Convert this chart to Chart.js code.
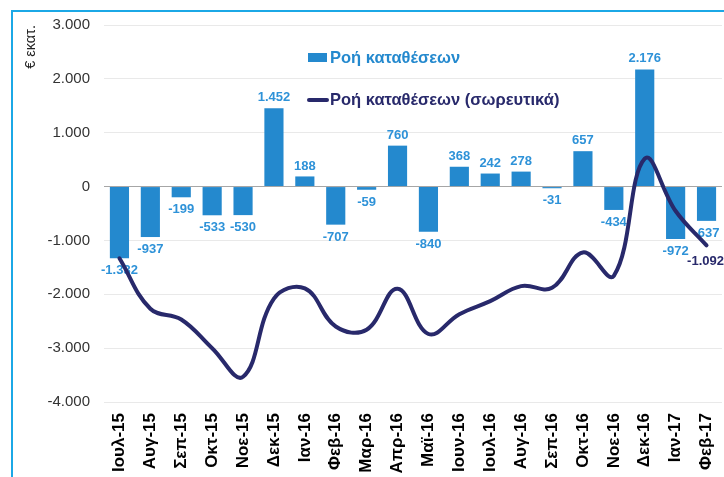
<!DOCTYPE html>
<html>
<head>
<meta charset="utf-8">
<script src="https://cdn.jsdelivr.net/npm/chart.js@4/dist/chart.umd.min.js"></script>
<style>
  html, body { margin: 0; padding: 0; background: #fff; overflow: hidden; }
  #wrap { position: relative; width: 724px; height: 477px; overflow: hidden; }
  #frame { position: absolute; left: 11px; top: 10px; width: 800px; height: 600px;
           border-top: 2px solid #1BA8E6; border-left: 2px solid #1BA8E6; }
  #flowChart { position: absolute; left: 0; top: 0; }
  .lg { position: absolute; font-family: 'Liberation Sans', Arial, sans-serif; font-size: 16.5px; font-weight: bold; white-space: nowrap; line-height: 20px; }
  .lg i { position: absolute; display: block; }
</style>
</head>
<body>
<div id="wrap">
  <div id="frame"></div>
  <canvas id="flowChart" width="730" height="482"></canvas>
  <div class="lg" style="left:330px; top:47px; color:#2489CE;"><i style="left:-22px; top:6px; width:19px; height:9px; background:#2489CE;"></i>Ροή καταθέσεων</div>
  <div class="lg" style="left:330px; top:89px; color:#28296B;"><i style="left:-23px; top:9px; width:22px; height:4px; background:#28296B; border-radius:2px;"></i>Ροή καταθέσεων (σωρευτικά)</div>
</div>
<script>
const months = ['Ιουλ-15', 'Αυγ-15', 'Σεπ-15', 'Οκτ-15', 'Νοε-15', 'Δεκ-15', 'Ιαν-16', 'Φεβ-16', 'Μαρ-16', 'Απρ-16',
  'Μαϊ-16', 'Ιουν-16', 'Ιουλ-16', 'Αυγ-16', 'Σεπ-16', 'Οκτ-16', 'Νοε-16', 'Δεκ-16', 'Ιαν-17', 'Φεβ-17'];

// monthly deposit flows, € mn
const depositFlows = [-1332, -937, -199, -533, -530, 1452, 188, -707, -59, 760,
  -840, 368, 242, 278, -31, 657, -434, 2176, -972, -637];

// cumulative flows, € mn
const cumulativeFlows = [-1332, -2269, -2468, -3001, -3531, -2079, -1891, -2598, -2657, -1897,
  -2737, -2369, -2127, -1849, -1880, -1223, -1657, 519, -453, -1092];

const yTicks = [3000, 2000, 1000, 0, -1000, -2000, -3000, -4000];

const BAR_COLOR = '#2489CE';
const LINE_COLOR = '#28296B';

function formatGreek(v) {
  const s = Math.abs(v).toString().replace(/\B(?=(\d{3})+(?!\d))/g, '.');
  return (v < 0 ? '-' : '') + s;
}

Chart.defaults.font.family = "'Liberation Sans', Arial, sans-serif";

// value labels on bars, and the last point of the line
const valueLabels = {
  id: 'valueLabels',
  afterDatasetDraw(chart, args) {
    const c = chart.ctx;
    c.save();
    c.font = 'bold 13px "Liberation Sans", Arial, sans-serif';
    c.textAlign = 'center';
    if (args.index === 0) {
      c.fillStyle = '#2E92D8';
      args.meta.data.forEach((bar, i) => {
        const v = depositFlows[i];
        if (v >= 0) {
          c.textBaseline = 'bottom';
          c.fillText(formatGreek(v), bar.x, bar.y - 4);
        } else {
          c.textBaseline = 'top';
          c.fillText(formatGreek(v), bar.x, bar.y + 6);
        }
      });
    } else if (args.index === 1) {
      const last = args.meta.data[args.meta.data.length - 1];
      c.fillStyle = LINE_COLOR;
      c.textBaseline = 'top';
      c.fillText(formatGreek(cumulativeFlows[cumulativeFlows.length - 1]), last.x - 1, last.y + 10);
    }
    c.restore();
  }
};

const ctx = document.getElementById('flowChart').getContext('2d');

const flowChart = new Chart(ctx, {
  data: {
    labels: months,
    datasets: [{
      type: 'bar',
      label: 'Ροή καταθέσεων',
      data: depositFlows,
      backgroundColor: BAR_COLOR,
      barPercentage: 0.62,
      categoryPercentage: 1,
      order: 1
    }, {
      type: 'line',
      label: 'Ροή καταθέσεων (σωρευτικά)',
      data: cumulativeFlows,
      borderColor: LINE_COLOR,
      borderWidth: 4,
      borderCapStyle: 'round',
      tension: 0.4,
      pointRadius: 0,
      order: 0
    }]
  },
  options: {
    responsive: false,
    animation: false,
    layout: { padding: { top: 25, right: 3, left: 0, bottom: 0 } },
    plugins: {
      legend: { display: false },
      tooltip: { enabled: false }
    },
    scales: {
      x: {
        grid: { display: false },
        border: { display: false },
        ticks: {
          autoSkip: false,
          minRotation: 90,
          maxRotation: 90,
          padding: 3,
          color: '#000',
          font: { size: 17, weight: 'bold' }
        },
        afterFit(scale) { scale.height = 80; }
      },
      y: {
        min: -4000,
        max: 3000,
        afterBuildTicks(scale) { scale.ticks = yTicks.map(v => ({ value: v })); },
        grid: {
          drawTicks: false,
          color: c => (c.tick && c.tick.value === 0) ? '#A6A6A6' : '#E9E9E9'
        },
        border: { display: false },
        ticks: {
          padding: 14,
          color: '#333',
          font: { size: 15 },
          callback: v => formatGreek(v)
        },
        title: {
          display: true,
          text: '€ εκατ.',
          align: 'end',
          color: '#222',
          padding: { top: 22, bottom: 0 },
          font: { size: 14.5 }
        },
        afterFit(scale) { scale.width = 104; }
      }
    }
  },
  plugins: [valueLabels]
});
</script>
</body>
</html>
